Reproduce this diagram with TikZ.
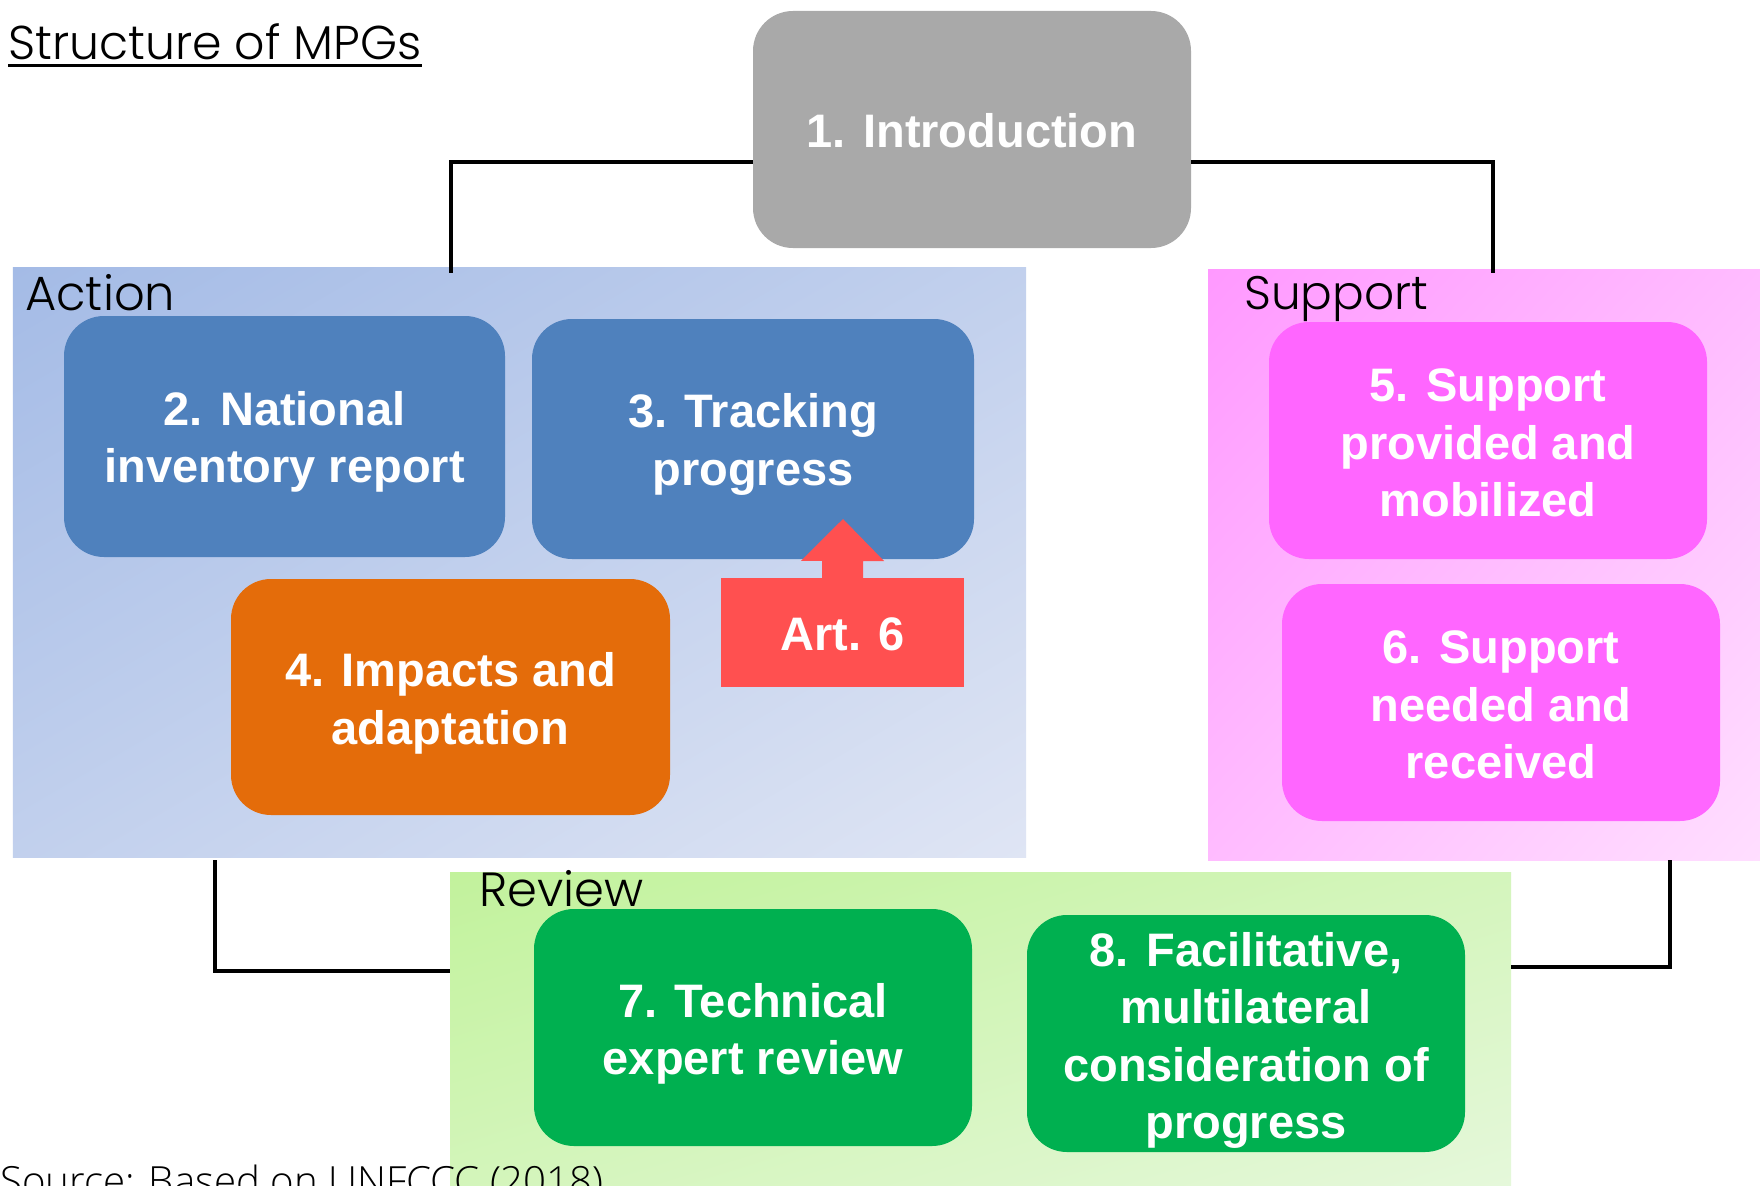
\documentclass[tikz,border=0pt]{standalone}
\usepackage{fontspec}
\usetikzlibrary{shadings}
\setmainfont{Liberation Sans}
\IfFontExistsTF{Poppins Light}{\newfontfamily\lightfont{Poppins Light}}{\newfontfamily\lightfont{Poppins}}
\IfFontExistsTF{Open Sans Light}{\newfontfamily\srcfont{Open Sans Light}}{\newfontfamily\srcfont{Open Sans}}
\definecolor{introgray}{HTML}{A9A9A9}
\definecolor{boxblue}{HTML}{4F81BD}
\definecolor{boxorange}{HTML}{E46C0A}
\definecolor{artred}{HTML}{FF5050}
\definecolor{boxpink}{HTML}{FF66FF}
\definecolor{boxgreen}{HTML}{00B050}
\definecolor{actA}{HTML}{A4BBE6}
\definecolor{actB}{HTML}{DFE5F4}
\definecolor{supA}{HTML}{FF99FF}
\definecolor{supB}{HTML}{FFDEFF}
\definecolor{revA}{HTML}{C2F29C}
\definecolor{revB}{HTML}{E6F8DC}
\colorlet{actM}{actA!50!actB}
\colorlet{supM}{supA!50!supB}
\colorlet{revM}{revA!50!revB}
\begin{document}
\begin{tikzpicture}[x=1pt,y=-1pt,
  box/.style={rounded corners=40pt, minimum width=438pt, minimum height=237pt, inner sep=0pt},
  boxtext/.style={align=center, text=white, inner sep=0pt, font=\fontsize{47}{57.5}\selectfont\bfseries},
  grp/.style={inner sep=0pt, anchor=north west, shade},
  conn/.style={line width=3.5pt, black},
  lbl/.style={anchor=base west, inner sep=0pt, font=\lightfont\fontsize{48}{56}\selectfont}
]
\clip (0,0) rectangle (1760,1185);
\fill[white] (0,0) rectangle (1760,1185);
% groups
\node[grp, minimum width=1013.4pt, minimum height=590pt,
  upper left=actA, upper right=actM, lower left=actM, lower right=actB] (action) at (12.6,267) {};
\node[grp, minimum width=552pt, minimum height=591pt,
  upper left=supA, upper right=supM, lower left=supM, lower right=supB] (support) at (1208,269) {};
\node[grp, minimum width=1061pt, minimum height=330pt,
  upper left=revA, upper right=revM, lower left=revM, lower right=revB] (review) at (450,872) {};
% intro
\node[box, fill=introgray, label={[boxtext, yshift=-1pt]center:1. Introduction}] (intro) at (972,129.5) {};
% connector end points
\coordinate (ca) at (451,273);
\coordinate (cb) at (1493,273);
\coordinate (cc) at (215,860);
\coordinate (cd) at (1670,860);
\draw[conn] ([yshift=-32.5pt]intro.west) -| (ca);
\draw[conn] ([yshift=-32.5pt]intro.east) -| (cb);
\draw[conn] (cc) |- ([yshift=66pt]review.west);
\draw[conn] (cd) |- ([yshift=70pt]review.east);
% boxes
\node[box, fill=boxblue, minimum width=441pt, minimum height=241pt,
  label={[boxtext, yshift=-5.5pt]center:{2. National\\inventory report}}] (n2) at (284.5,436.5) {};
\node[box, fill=boxblue, minimum width=442pt, minimum height=240pt,
  label={[boxtext, yshift=-5.5pt]center:{3. Tracking\\progress}}] (n3) at (753,439) {};
\node[box, fill=boxorange, minimum width=439pt, minimum height=236pt,
  label={[boxtext, yshift=-6.5pt]center:{4. Impacts and\\adaptation}}] (n4) at (450.5,697) {};
\node[box, fill=boxpink,
  label={[boxtext, yshift=-2.5pt]center:{5. Support\\provided and\\mobilized}}] (n5) at (1488,440.5) {};
\node[box, fill=boxpink,
  label={[boxtext, yshift=-2.5pt]center:{6. Support\\needed and\\received}}] (n6) at (1501,702.5) {};
\node[box, fill=boxgreen,
  label={[boxtext, yshift=-6.5pt]center:{7. Technical\\expert review}}] (n7) at (753,1027.5) {};
\node[box, fill=boxgreen,
  label={[boxtext, yshift=-7pt]center:{8. Facilitative,\\multilateral\\consideration of\\progress}}] (n8) at (1246,1033.5) {};
% Art. 6
\node[box, rounded corners=0pt, fill=artred, minimum width=243pt, minimum height=109pt,
  label={[boxtext, yshift=-2pt]center:Art. 6}] (art6) at (842.5,632.5) {};
\fill[artred] ([xshift=-20.5pt]art6.north) -- ++(0,-17) -- ++(-21,0) -- (843,519) -- (884,561) -- ++(-21,0) -- ([xshift=20.5pt]art6.north) -- cycle;
% labels
\node[lbl, font=\lightfont\fontsize{47.4}{56}\selectfont] (title) at (8,60) {Structure of MPGs};
\draw[line width=2.7pt] ([yshift=-5.5pt]title.base west) -- ([yshift=-5.5pt]title.base east);
\node[lbl] (lact) at (25,310) {Action};
\node[lbl, font=\lightfont\fontsize{47}{56}\selectfont] (lsup) at (1244,309) {Support};
\node[lbl] (lrev) at (479,906) {Review};
\node[lbl, font=\srcfont\fontsize{40.2}{46}\selectfont] (src) at (0,1195) {Source: Based on UNFCCC (2018)};
\end{tikzpicture}
\end{document}
